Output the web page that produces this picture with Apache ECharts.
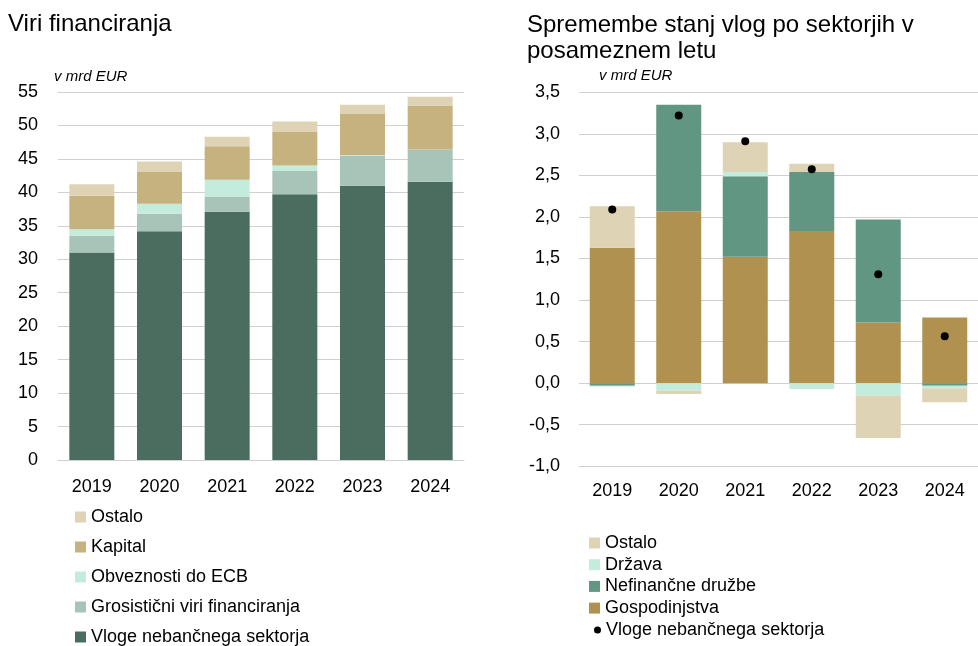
<!DOCTYPE html>
<html>
<head>
<meta charset="utf-8">
<script src="https://cdn.jsdelivr.net/npm/echarts@6/dist/echarts.min.js"></script>
<style>
  html, body { margin: 0; padding: 0; background: #fff; }
  #chart { width: 978px; height: 646px; }
</style>
</head>
<body>
<div id="chart"></div>
<script>
const years = ['2019', '2020', '2021', '2022', '2023', '2024']

// levo: viri financiranja, v mrd EUR
const vloge = [31.0, 34.2, 37.1, 39.7, 41.0, 41.6]
const grosisticni = [2.5, 2.6, 2.3, 3.5, 4.5, 4.8]
const obveznostiEcb = [1.0, 1.5, 2.5, 0.8, 0.1, 0.0]
const kapital = [5.0, 4.8, 5.0, 5.1, 6.1, 6.6]
const ostaloViri = [1.7, 1.5, 1.4, 1.5, 1.4, 1.3]

// desno: spremembe stanj vlog po sektorjih, v mrd EUR
const gospodinjstva = [1.63, 2.07, 1.52, 1.83, 0.73, 0.79]
const nefinancne = [-0.03, 1.28, 0.97, 0.71, 1.24, -0.03]
const drzava = [-0.01, -0.09, 0.05, -0.07, -0.15, -0.03]
const ostaloSpr = [0.50, -0.04, 0.36, 0.10, -0.51, -0.17]
const vlogeSpr = [2.09, 3.22, 2.91, 2.575, 1.31, 0.565]

const FONT = '"Liberation Sans", Arial, sans-serif'
const GRID_COLOR = '#d0d0d0'

const c = {
  vloge: '#4a6d60',
  gros: '#a8c4b8',
  ecb: '#c4ecdd',
  kapital: '#c6b27f',
  ostalo: '#dfd3b5',
  gosp: '#b0914f',
  nefin: '#619683'
}

const chart = echarts.init(document.getElementById('chart'))

const yLabel = { fontFamily: FONT, fontSize: 18, color: '#000' }
const titleText = { fontFamily: FONT, fontSize: 24, fontWeight: 'normal', color: '#000' }
const unitText = { fontFamily: FONT, fontSize: 15, fontStyle: 'italic', fontWeight: 'normal', color: '#000' }
const legendText = { fontFamily: FONT, fontSize: 18, color: '#000', lineHeight: 18 }

const option = {
  animation: false,
  textStyle: { fontFamily: FONT },
  title: [
    { text: 'Viri financiranja', left: 8, top: 12, padding: 0, textStyle: titleText },
    { text: 'Spremembe stanj vlog po sektorjih v\nposameznem letu', left: 527, top: 12, padding: 0,
      textStyle: { ...titleText, lineHeight: 26 } },
    { text: 'v mrd EUR', left: 54, top: 69, padding: 0, textStyle: unitText },
    { text: 'v mrd EUR', left: 599, top: 68, padding: 0, textStyle: unitText }
  ],
  legend: [
    {
      orient: 'vertical', left: 75, top: 508, height: 200, padding: 0,
      itemWidth: 11, itemHeight: 11, itemGap: 12, icon: 'rect',
      textStyle: legendText,
      data: ['Ostalo', 'Kapital', 'Obveznosti do ECB', 'Grosistični viri financiranja', 'Vloge nebančnega sektorja']
    },
    {
      orient: 'vertical', left: 589, top: 534, height: 200, padding: 0,
      itemWidth: 11, itemHeight: 11, itemGap: 3.7, icon: 'rect',
      textStyle: legendText,
      data: ['Ostalo', 'Država', 'Nefinančne družbe', 'Gospodinjstva']
    },
    {
      orient: 'vertical', left: 594, top: 621, padding: 0,
      itemWidth: 7, itemHeight: 7, icon: 'circle',
      textStyle: legendText,
      formatter: () => 'Vloge nebančnega sektorja',
      data: ['vlogeTocke']
    }
  ],
  grid: [
    { left: 58, right: 514, top: 92, bottom: 186 },
    { left: 579, right: -9, top: 92.3, bottom: 179.7 }
  ],
  xAxis: [
    {
      gridIndex: 0, type: 'category', data: years,
      axisLine: { lineStyle: { color: GRID_COLOR, width: 1 } },
      axisTick: { show: false },
      axisLabel: { ...yLabel, margin: 18 }
    },
    {
      gridIndex: 1, type: 'category', data: years, position: 'bottom',
      axisLine: { show: false, onZero: false },
      axisTick: { show: false },
      axisLabel: { ...yLabel, margin: 16 }
    }
  ],
  yAxis: [
    {
      gridIndex: 0, type: 'value', min: 0, max: 55, interval: 5,
      axisLine: { show: false }, axisTick: { show: false },
      axisLabel: { ...yLabel, margin: 20 },
      splitLine: { lineStyle: { color: GRID_COLOR, width: 1 } }
    },
    {
      gridIndex: 1, type: 'value', min: -1, max: 3.5, interval: 0.5,
      axisLine: { show: false }, axisTick: { show: false },
      axisLabel: { ...yLabel, margin: 19, formatter: v => v.toFixed(1).replace('.', ',') },
      splitLine: { lineStyle: { color: GRID_COLOR, width: 1 } }
    }
  ],
  series: [
    // levi graf
    { name: 'Vloge nebančnega sektorja', type: 'bar', stack: 'L', barWidth: 45, data: vloge, itemStyle: { color: c.vloge } },
    { name: 'Grosistični viri financiranja', type: 'bar', stack: 'L', data: grosisticni, itemStyle: { color: c.gros } },
    { name: 'Obveznosti do ECB', type: 'bar', stack: 'L', data: obveznostiEcb, itemStyle: { color: c.ecb } },
    { name: 'Kapital', type: 'bar', stack: 'L', data: kapital, itemStyle: { color: c.kapital } },
    { name: 'Ostalo', type: 'bar', stack: 'L', data: ostaloViri, itemStyle: { color: c.ostalo } },
    // desni graf
    { name: 'Gospodinjstva', type: 'bar', stack: 'R', barWidth: 45, xAxisIndex: 1, yAxisIndex: 1, data: gospodinjstva, itemStyle: { color: c.gosp } },
    { name: 'Nefinančne družbe', type: 'bar', stack: 'R', xAxisIndex: 1, yAxisIndex: 1, data: nefinancne, itemStyle: { color: c.nefin } },
    { name: 'Država', type: 'bar', stack: 'R', xAxisIndex: 1, yAxisIndex: 1, data: drzava, itemStyle: { color: c.ecb } },
    { name: 'Ostalo', type: 'bar', stack: 'R', xAxisIndex: 1, yAxisIndex: 1, data: ostaloSpr, itemStyle: { color: c.ostalo } },
    { name: 'vlogeTocke', type: 'scatter', xAxisIndex: 1, yAxisIndex: 1, data: vlogeSpr,
      symbol: 'circle', symbolSize: 8, itemStyle: { color: '#000', opacity: 1 }, z: 5 }
  ]
}

chart.setOption(option)
</script>
</body>
</html>
